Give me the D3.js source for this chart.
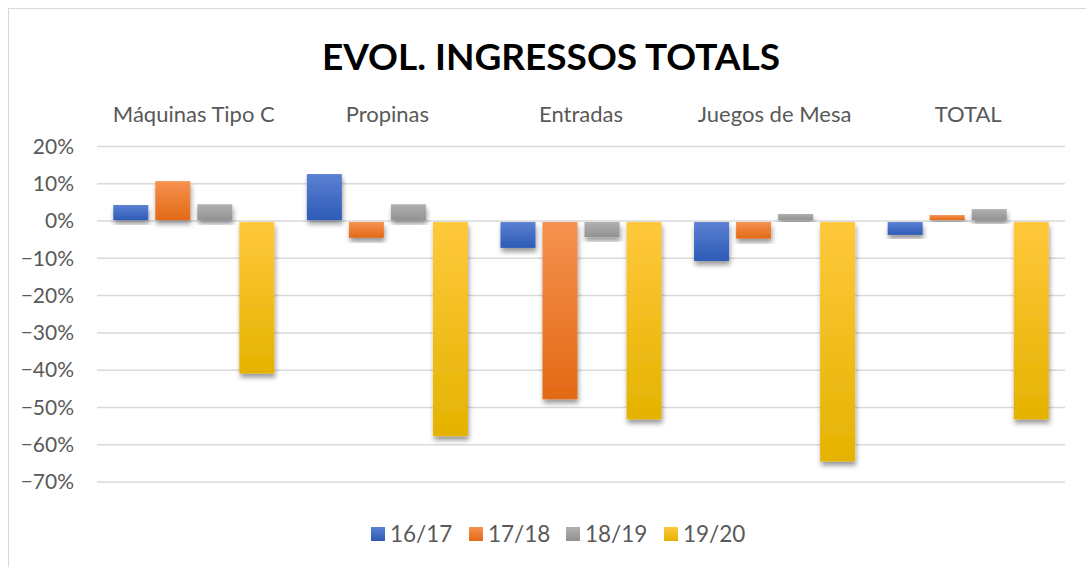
<!DOCTYPE html>
<html>
<head>
<meta charset="utf-8">
<script src="https://cdn.jsdelivr.net/npm/d3@7"></script>
<style>
  body { margin: 0; background: #fff; }
  text { font-family: Lato, "Open Sans", sans-serif; }
</style>
</head>
<body>
<div id="chart"></div>
<script>
// data
var categories = ["Máquinas Tipo C", "Propinas", "Entradas", "Juegos de Mesa", "TOTAL"];
var seriesNames = ["16/17", "17/18", "18/19", "19/20"];
var v1617 = [0.043, 0.126, -0.072, -0.107, -0.037];
var v1718 = [0.107, -0.045, -0.478, -0.047, 0.016];
var v1819 = [0.045, 0.045, -0.043, 0.019, 0.032];
var v1920 = [-0.409, -0.577, -0.532, -0.645, -0.532];
var yTicks = [0.2, 0.1, 0, -0.1, -0.2, -0.3, -0.4, -0.5, -0.6, -0.7];

var seriesValues = [v1617, v1718, v1819, v1920];
var colors = [
  ["#5b80d2", "#2d5bb7"],
  ["#f5924f", "#e36916"],
  ["#b0b0b0", "#929292"],
  ["#ffc83c", "#e4b300"]
];

var svgWidth = 1086;
var svgHeight = 567;

var svg = d3.select("#chart")
  .append("svg")
  .attr("width", svgWidth)
  .attr("height", svgHeight);

var defs = svg.append("defs");

colors.forEach(function(c, i) {
  var g = defs.append("linearGradient")
    .attr("id", "grad" + i)
    .attr("x1", 0).attr("y1", 0)
    .attr("x2", 0).attr("y2", 1);
  g.append("stop").attr("offset", "0%").attr("stop-color", c[0]);
  g.append("stop").attr("offset", "100%").attr("stop-color", c[1]);
});

var shadow = defs.append("filter")
  .attr("id", "shadow")
  .attr("x", "-30%").attr("y", "-30%")
  .attr("width", "160%").attr("height", "160%");
shadow.append("feDropShadow")
  .attr("dx", 1)
  .attr("dy", 4)
  .attr("stdDeviation", 2.5)
  .attr("flood-color", "#000")
  .attr("flood-opacity", 0.4);

// chart border (light gray frame)
svg.append("rect")
  .attr("x", 8.5)
  .attr("y", 8.5)
  .attr("width", svgWidth)
  .attr("height", svgHeight)
  .attr("fill", "none")
  .attr("stroke", "#d9d9d9")
  .attr("stroke-width", 1);

var left = 97, right = 1065;

var x0 = d3.scaleBand()
  .domain(categories)
  .range([left, right])
  .paddingInner(0.168)
  .paddingOuter(0.084);

var x1 = d3.scaleBand()
  .domain(seriesNames)
  .range([0, x0.bandwidth()])
  .paddingInner(0.167)
  .paddingOuter(0);

var y = d3.scaleLinear()
  .domain([-0.7, 0.2])
  .range([482, 146.5]);

// title
svg.append("text")
  .attr("x", 551)
  .attr("y", 70)
  .attr("text-anchor", "middle")
  .style("font-size", "37px")
  .style("font-weight", "bold")
  .style("fill", "#000")
  .text("EVOL. INGRESSOS TOTALS");

// gridlines
svg.append("g")
  .selectAll("line")
  .data(yTicks)
  .enter()
  .append("line")
  .attr("x1", left)
  .attr("x2", right)
  .attr("y1", d => y(d))
  .attr("y2", d => y(d))
  .attr("stroke", "#d9d9d9")
  .attr("stroke-width", 1.5);

// y axis labels
var leftAxis = d3.axisLeft(y)
  .tickValues(yTicks)
  .tickFormat(d3.format(".0%"))
  .tickSize(0)
  .tickPadding(0);

var yAxis = svg.append("g")
  .attr("transform", "translate(74,0)")
  .call(leftAxis);
yAxis.select(".domain").remove();
yAxis.selectAll("text")
  .style("font-size", "21px")
  .style("fill", "#595959")
  .style("font-family", "Lato, sans-serif");

// category labels at the top
svg.append("g")
  .selectAll("text")
  .data(categories)
  .enter()
  .append("text")
  .attr("x", d => x0(d) + x0.bandwidth() / 2)
  .attr("y", 122)
  .attr("text-anchor", "middle")
  .style("font-size", "22px")
  .style("fill", "#595959")
  .text(d => d);

// bars
var groups = svg.append("g")
  .selectAll("g")
  .data(categories)
  .enter()
  .append("g")
  .attr("transform", d => `translate(${x0(d)},0)`);

groups.selectAll("rect")
  .data(function(d, ci) {
    return seriesNames.map(function(s, si) {
      return { series: s, idx: si, value: seriesValues[si][ci] };
    });
  })
  .enter()
  .append("rect")
  .attr("x", d => x1(d.series))
  .attr("width", x1.bandwidth())
  .attr("y", d => d.value >= 0 ? y(d.value) : y(0) + 1)
  .attr("height", d => d.value >= 0 ? y(0) - 1 - y(d.value) : y(d.value) - y(0) - 1)
  .attr("fill", d => "url(#grad" + d.idx + ")")
  .attr("filter", "url(#shadow)");

// legend
var legendX = [371, 469, 566, 664];
var legend = svg.append("g")
  .selectAll("g")
  .data(seriesNames)
  .enter()
  .append("g")
  .attr("transform", (d, i) => `translate(${legendX[i]},527)`);

legend.append("rect")
  .attr("width", 14)
  .attr("height", 14)
  .attr("fill", (d, i) => "url(#grad" + i + ")");

legend.append("text")
  .attr("x", 19)
  .attr("y", 14.5)
  .style("font-size", "22.5px")
  .style("fill", "#595959")
  .text(d => d);
</script>
</body>
</html>
